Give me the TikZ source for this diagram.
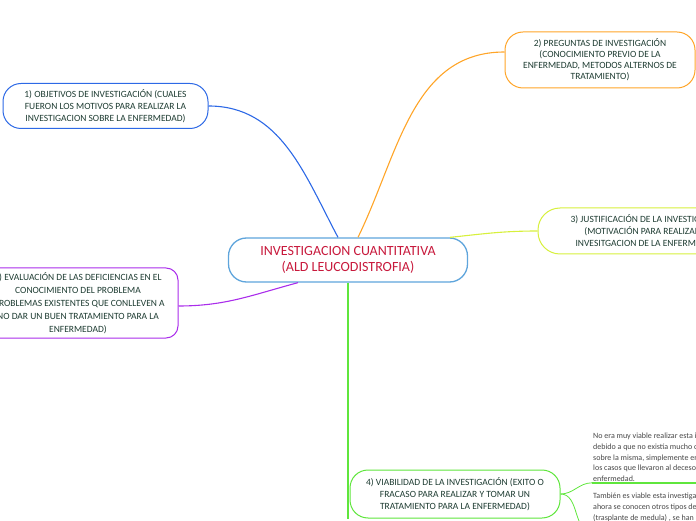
\documentclass[tikz,border=0pt]{standalone}
\usepackage{fontspec}
\setmainfont{Carlito}
\usepackage{xcolor}
\definecolor{mapblue}{RGB}{45, 105, 230}
\definecolor{maporange}{RGB}{255, 165, 40}
\definecolor{maplime}{RGB}{215, 240, 60}
\definecolor{mappurple}{RGB}{170, 45, 235}
\definecolor{mapgreen}{RGB}{95, 230, 60}
\definecolor{centreblue}{RGB}{95, 165, 220}
\definecolor{titlered}{RGB}{200, 25, 60}
\definecolor{topictext}{RGB}{30, 60, 50}
\definecolor{notetext}{RGB}{70, 70, 70}

\begin{document}
\begin{tikzpicture}[
    x=1pt, y=1pt,
    topic/.style={draw=#1, line width=1pt, rounded corners=18pt, fill=white,
        align=center, text=topictext, inner sep=0pt,
        font=\fontsize{9.5}{12}\selectfont},
    topic/.default=black,
    note/.style={anchor=north west, align=left, text=notetext, inner sep=1pt,
        font=\fontsize{8}{10.7}\selectfont},
    link/.style={draw=#1, line width=1.1pt}
]

    % Frame
    \useasboundingbox (0, 0) rectangle (696, 520);
    \clip (0, 0) rectangle (696, 520);

    % Coordinates
    \coordinate (c_centre) at (348, 260);
    \coordinate (c_obj)    at (105.5, 414);
    \coordinate (c_preg)   at (600, 460);
    \coordinate (c_just)   at (648, 289);
    \coordinate (c_eval)   at (78, 217);
    \coordinate (c_viab)   at (455, 26);
    \coordinate (c_note1)  at (592, 88);
    \coordinate (c_note2)  at (592, 28);

    % Topics
    \node[topic=centreblue, line width=1.3pt, minimum width=239, minimum height=44,
          text=titlered, font=\fontsize{14}{16}\selectfont] (centre) at (c_centre)
          {INVESTIGACION CUANTITATIVA\\(ALD LEUCODISTROFIA)};

    \node[topic=mapblue, minimum width=205, minimum height=45] (obj) at (c_obj)
          {1) OBJETIVOS DE INVESTIGACIÓN (CUALES\\FUERON LOS MOTIVOS PARA REALIZAR LA\\INVESTIGACION SOBRE LA ENFERMEDAD)};

    \node[topic=maporange, minimum width=190, minimum height=56,
          font=\fontsize{9.5}{11}\selectfont] (preg) at (c_preg)
          {2) PREGUNTAS DE INVESTIGACIÓN\\(CONOCIMIENTO PREVIO DE LA\\ENFERMEDAD, METODOS ALTERNOS DE\\TRATAMIENTO)};

    \node[topic=maplime, minimum width=220, minimum height=46, rounded corners=22pt] (just) at (c_just)
          {3) JUSTIFICACIÓN DE LA INVESTIGACIÓN\\(MOTIVACIÓN PARA REALIZAR LA\\INVESITGACION DE LA ENFERMEDAD)};

    \node[topic=mappurple, minimum width=200, minimum height=70, rounded corners=12pt,
          font=\fontsize{9.5}{13}\selectfont] (eval) at (c_eval)
          {5) EVALUACIÓN DE LAS DEFICIENCIAS EN EL\\CONOCIMIENTO DEL PROBLEMA\\(PROBLEMAS EXISTENTES QUE CONLLEVEN A\\NO DAR UN BUEN TRATAMIENTO PARA LA\\ENFERMEDAD)};

    \node[topic=mapgreen, minimum width=210, minimum height=48] (viab) at (c_viab)
          {4) VIABILIDAD DE LA INVESTIGACIÓN (EXITO O\\FRACASO PARA REALIZAR Y TOMAR UN\\TRATAMIENTO PARA LA ENFERMEDAD)};

    % Notes under topic 4
    \node[note] (note1) at (c_note1)
          {No era muy viable realizar esta investigación\\debido a que no existía mucho conocimiento\\sobre la misma, simplemente eran conocidos\\los casos que llevaron al deceso por la\\enfermedad.};
    \node[note] (note2) at (c_note2)
          {También es viable esta investigación ya que\\ahora se conocen otros tipos de tratamiento\\(trasplante de medula) , se han\\realizado};

    % Branches
    \draw[link=mapblue] ([xshift=-10]centre.north) to[out=118, in=0] (obj.east);
    \draw[link=maporange] ([xshift=10]centre.north) to[out=64, in=180] ([yshift=8]preg.west);
    \draw[link=maplime] ([xshift=102]centre.north) to[out=6, in=180] (just.west);
    \draw[link=mappurple] ([xshift=-50]centre.south) to[out=195, in=0] ([yshift=-3]eval.east);
    \draw[link=mapgreen] (centre.south) -- (centre.south |- viab.south);

    % Notes
    \draw[mapgreen, line width=0.8pt] (viab.east) to[out=0, in=180] (note1.south west);
    \draw[mapgreen, line width=1.6pt] (note1.south west) -- (note1.south east);
    \draw[mapgreen, line width=0.8pt] (viab.east) to[out=0, in=180] (note2.south west);

\end{tikzpicture}
\end{document}
